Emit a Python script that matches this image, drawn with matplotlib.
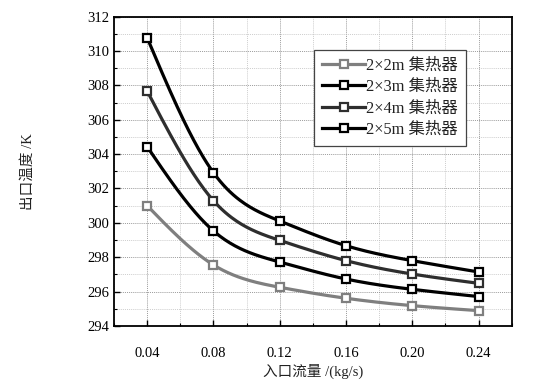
import numpy as np
import matplotlib.pyplot as plt
from matplotlib.ticker import MultipleLocator, FormatStrFormatter

# inlet flow rate (kg/s) and outlet temperature (K)
flow = [0.04, 0.08, 0.12, 0.16, 0.20, 0.24]
t_2x2 = [301.0, 297.55, 296.25, 295.61, 295.18, 294.89]
t_2x3 = [304.43, 299.53, 297.72, 296.73, 296.13, 295.71]
t_2x4 = [307.67, 301.29, 298.98, 297.8, 297.02, 296.48]
t_2x5 = [310.77, 302.92, 300.11, 298.67, 297.8, 297.14]
labels = ['2×2m 集热器', '2×3m 集热器', '2×4m 集热器', '2×5m 集热器']

FONT = ['Liberation Serif', 'Noto Sans CJK SC']
plt.rcParams['font.family'] = FONT


def smooth(x, y, n=40):
    # natural cubic spline through the points, only for drawing the curve
    x = np.asarray(x, float)
    y = np.asarray(y, float)
    k = len(x)
    h = np.diff(x)
    A = np.zeros((k, k))
    b = np.zeros(k)
    A[0, 0] = A[-1, -1] = 1
    for i in range(1, k - 1):
        A[i, i - 1] = h[i - 1]
        A[i, i] = 2 * (h[i - 1] + h[i])
        A[i, i + 1] = h[i]
        b[i] = 6 * ((y[i + 1] - y[i]) / h[i] - (y[i] - y[i - 1]) / h[i - 1])
    M = np.linalg.solve(A, b)
    xs, ys = [], []
    for i in range(k - 1):
        t = np.linspace(x[i], x[i + 1], n, endpoint=False)
        a = x[i + 1] - t
        c = t - x[i]
        s = (M[i] * a**3 + M[i + 1] * c**3) / (6 * h[i]) \
            + (y[i] / h[i] - M[i] * h[i] / 6) * a \
            + (y[i + 1] / h[i] - M[i + 1] * h[i] / 6) * c
        xs.append(t)
        ys.append(s)
    xs.append([x[-1]])
    ys.append([y[-1]])
    return np.concatenate(xs), np.concatenate(ys)


fig = plt.figure(figsize=(5.38, 3.88), dpi=100)
ax = fig.add_axes([0.212, 0.160, 0.739, 0.797])

series = [t_2x2, t_2x3, t_2x4, t_2x5]
colors = ['#7f7f7f', '#000000', '#2e2e2e', '#000000']
for ys, c, lab in zip(series, colors, labels):
    sx, sy = smooth(flow, ys)
    ax.plot(sx, sy, color=c, lw=2.3, zorder=3)
    ax.plot(flow, ys, ls='none', marker='s', ms=6, mfc='white', mec=c, mew=1.6, zorder=4)
    ax.plot([], [], color=c, lw=2.3, marker='s', ms=6, mfc='white', mec=c, mew=1.6, label=lab)

ax.set_xlim(0.02, 0.26)
ax.set_ylim(294, 312)
ax.xaxis.set_major_locator(MultipleLocator(0.04))
ax.xaxis.set_minor_locator(MultipleLocator(0.02))
ax.yaxis.set_major_locator(MultipleLocator(2))
ax.yaxis.set_minor_locator(MultipleLocator(1))
ax.xaxis.set_major_formatter(FormatStrFormatter('%.2f'))
ax.set_xticks([0.04, 0.08, 0.12, 0.16, 0.20, 0.24])
ax.tick_params(which='both', direction='in', labelsize=10.5, colors='black')
ax.tick_params(which='major', length=4, width=1)
ax.tick_params(which='minor', length=2.5, width=0.8)
ax.tick_params(axis='x', pad=15)
ax.grid(which='major', ls=(0, (1.5, 1.5)), color='#777777', lw=0.5)
ax.grid(which='minor', ls=(0, (1.5, 1.5)), color='#bbbbbb', lw=0.5)
ax.set_axisbelow(True)
for s in ax.spines.values():
    s.set_linewidth(1.3)

ax.set_xlabel('入口流量 /(kg/s)', fontsize=10.5, labelpad=3, color='#222222')
ax.set_ylabel('出口温度 /K', fontsize=10.5, labelpad=38, color='#222222')

leg = ax.legend(loc='upper left', bbox_to_anchor=(0.503, 0.893), fontsize=11.8,
                frameon=True, fancybox=False, framealpha=1, handlelength=2.6,
                handletextpad=0.1, borderpad=0.5, labelspacing=0.32, borderaxespad=0)
leg.get_frame().set_edgecolor('#444444')
leg.get_frame().set_linewidth(0.9)
for t in leg.get_texts():
    t.set_color('#222222')

fig.savefig('out.png', dpi=100, facecolor='white')
